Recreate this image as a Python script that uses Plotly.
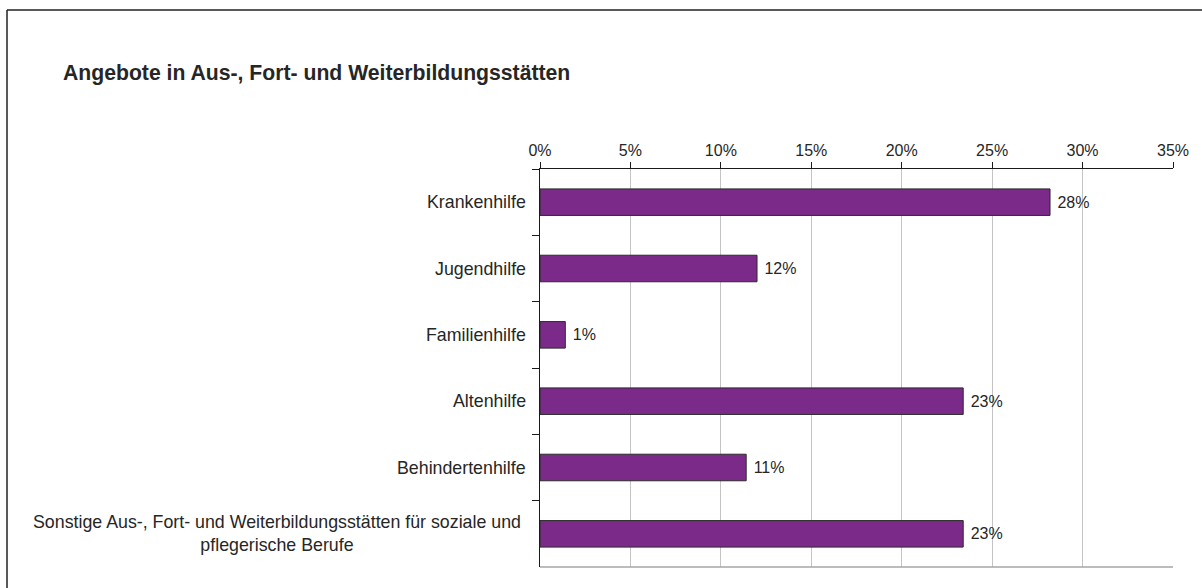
import plotly.graph_objects as go

# Share of offerings per field
categories = [
    "Krankenhilfe",
    "Jugendhilfe",
    "Familienhilfe",
    "Altenhilfe",
    "Behindertenhilfe",
    "Sonstige Aus-, Fort- und Weiterbildungsstätten für soziale und<br>pflegerische Berufe",
]
shares = [0.282, 0.120, 0.014, 0.234, 0.114, 0.234]
x_ticks = [0.0, 0.05, 0.10, 0.15, 0.20, 0.25, 0.30, 0.35]

title_text = "Angebote in Aus-, Fort- und Weiterbildungsstätten"

FONT = "Liberation Sans, Arial, sans-serif"
TEXT_COLOR = "#262626"
W, H = 1202, 588
M_L, M_R, M_T, M_B = 540, 29, 169, 21
PW, PH = W - M_L - M_R, H - M_T - M_B


def px_to_paper_x(px):
    return (px - M_L) / PW


def px_to_paper_y(py):
    return (H - M_B - py) / PH


fig = go.Figure()
fig.add_trace(
    go.Bar(
        x=shares,
        y=categories,
        orientation="h",
        width=0.4,
        marker=dict(color="#7B2A8A", line=dict(color="#2b2b2b", width=1)),
        text=[f"\u00a0{v:.0%}" for v in shares],
        textposition="outside",
        textfont=dict(family=FONT, size=16, color=TEXT_COLOR),
        cliponaxis=False,
        hoverinfo="skip",
    )
)

# Category labels, centred line by line
annotations = [
    dict(
        x=0, xref="paper", y=c, yref="y",
        text=c, showarrow=False, xanchor="right", yanchor="middle",
        align="center", xshift=-17 if "<br>" in c else -12,
        font=dict(family=FONT, size=17.8, color=TEXT_COLOR),
    )
    for c in categories
]
annotations.append(
    dict(
        x=px_to_paper_x(61), xref="paper", y=px_to_paper_y(73), yref="paper",
        text=f"<b>{title_text}</b>", showarrow=False,
        xanchor="left", yanchor="middle",
        font=dict(family=FONT, size=21.2, color=TEXT_COLOR),
    )
)

shapes = [
    # outer frame (left and top edges)
    dict(type="line", xref="paper", yref="paper",
         x0=px_to_paper_x(7), x1=px_to_paper_x(W + 5),
         y0=px_to_paper_y(10), y1=px_to_paper_y(10),
         line=dict(color="#222222", width=1.5)),
    dict(type="line", xref="paper", yref="paper",
         x0=px_to_paper_x(7), x1=px_to_paper_x(7),
         y0=px_to_paper_y(10), y1=px_to_paper_y(H + 5),
         line=dict(color="#222222", width=1.5)),
    # bottom edge of the plot area
    dict(type="line", xref="paper", yref="paper",
         x0=0, x1=1, y0=0, y1=0,
         line=dict(color="#a6a6a6", width=1.5)),
]

fig.update_layout(
    width=W,
    height=H,
    margin=dict(l=M_L, r=M_R, t=M_T, b=M_B),
    paper_bgcolor="white",
    plot_bgcolor="white",
    showlegend=False,
    font=dict(family=FONT, size=16, color=TEXT_COLOR),
    annotations=annotations,
    shapes=shapes,
    xaxis=dict(
        side="top",
        range=[0, 0.35],
        tickvals=x_ticks,
        tickformat=".0%",
        showgrid=True,
        gridcolor="#c4c4c4",
        gridwidth=1,
        showline=True,
        linecolor="#1a1a1a",
        linewidth=1,
        ticks="outside",
        ticklen=6,
        tickcolor="#1a1a1a",
        tickfont=dict(family=FONT, size=16, color=TEXT_COLOR),
        zeroline=False,
        fixedrange=True,
    ),
    yaxis=dict(
        autorange="reversed",
        showticklabels=False,
        tickson="boundaries",
        ticks="outside",
        ticklen=7,
        tickcolor="#1a1a1a",
        showline=True,
        linecolor="#1a1a1a",
        linewidth=1,
        showgrid=False,
        fixedrange=True,
    ),
)

fig.write_html("out.html")
